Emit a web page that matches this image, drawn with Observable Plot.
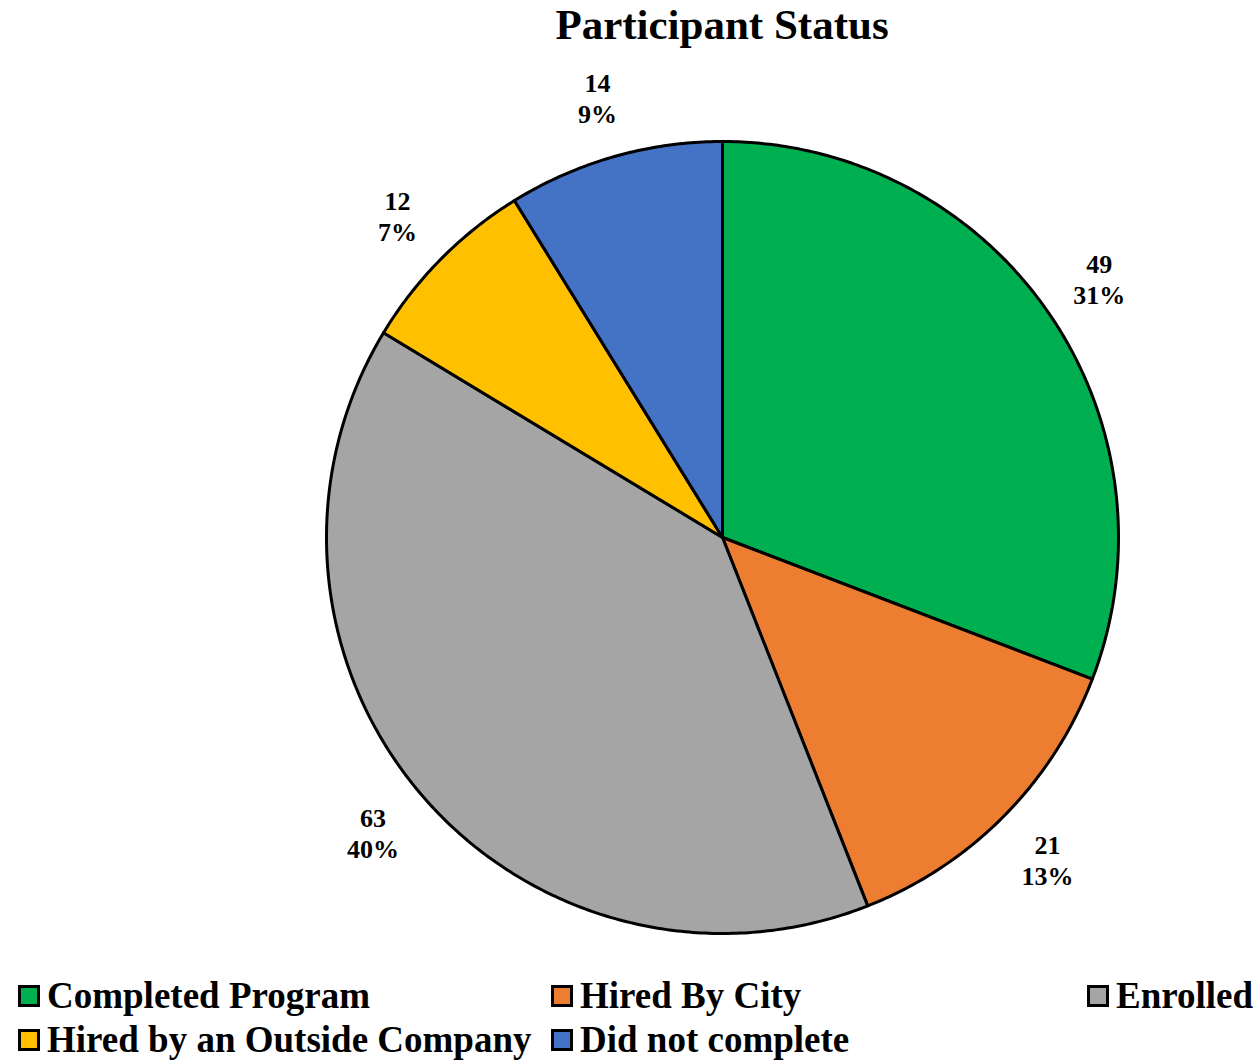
<!DOCTYPE html>
<html>
<head>
<meta charset="utf-8">
<script src="https://cdn.jsdelivr.net/npm/d3@7"></script>
<script src="https://cdn.jsdelivr.net/npm/@observablehq/plot@0.6"></script>
<style>
  html, body { margin: 0; padding: 0; background: #fff; }
  body { width: 1258px; height: 1062px; overflow: hidden; font-family: "Liberation Serif", serif; }
  #title { height: 60px; line-height: 50px; font-size: 43px; font-weight: bold; text-align: center; width: 1258px; padding-left: 186px; box-sizing: border-box; }
  #legend { position: relative; height: 100px; font-size: 37px; font-weight: bold; }
  .item { position: absolute; display: flex; align-items: center; white-space: nowrap; }
  .sw { width: 16px; height: 16px; border: 3px solid #000; margin-right: 7px; }
</style>
</head>
<body>
<div id="title">Participant Status</div>
<div id="chart"></div>
<div id="legend"></div>
<script>
const categories = ["Completed Program", "Hired By City", "Enrolled", "Hired by an Outside Company", "Did not complete"];
const values = [49, 21, 63, 12, 14];
const percentLabels = ["31%", "13%", "40%", "7%", "9%"];
const colors = ["#00B050", "#ED7D31", "#A5A5A5", "#FFC000", "#4472C4"];

const rows = categories.map((c, i) => ({category: c, value: values[i], pct: percentLabels[i]}));
const arcs = d3.pie().sort(null).value(d => d.value)(rows);

// polygon outline for each slice (unit circle, angle 0 at top, clockwise)
const slicePts = [];
arcs.forEach(a => {
  const c = a.data.category;
  slicePts.push({category: c, x: 0, y: 0});
  const n = Math.max(2, Math.ceil((a.endAngle - a.startAngle) / 0.01));
  for (let k = 0; k <= n; k++) {
    const t = a.startAngle + (a.endAngle - a.startAngle) * k / n;
    slicePts.push({category: c, x: Math.sin(t), y: Math.cos(t)});
  }
  slicePts.push({category: c, x: 0, y: 0});
});
const labelR = 1.155;
const labels = arcs.map(a => {
  const m = (a.startAngle + a.endAngle) / 2;
  return {x: labelR * Math.sin(m), y: labelR * Math.cos(m), text: a.data.value + "\n" + a.data.pct};
});

const plot = Plot.plot({
  width: 1258,
  height: 900,
  marginLeft: 326,
  marginRight: 140,
  marginTop: 81,
  marginBottom: 27,
  x: {domain: [-1, 1], axis: null},
  y: {domain: [-1, 1], axis: null},
  color: {domain: categories, range: colors},
  style: {fontFamily: "Liberation Serif", overflow: "visible"},
  marks: [
    Plot.line(slicePts, {x: "x", y: "y", z: "category", fill: "category", stroke: "#000", strokeWidth: 3, strokeLinejoin: "round", curve: "linear"}),
    Plot.text(labels, {x: "x", y: "y", text: "text", fontSize: 26, fontWeight: "bold", lineHeight: 1.2, fill: "#000"})
  ]
});
document.getElementById("chart").appendChild(plot);

const legendPos = [[18, 0], [551, 0], [1087, 0], [18, 44], [551, 44]];
const lg = document.getElementById("legend");
categories.forEach((c, i) => {
  const it = document.createElement("div");
  it.className = "item";
  it.style.left = legendPos[i][0] + "px";
  it.style.top = (14 + legendPos[i][1]) + "px";
  it.innerHTML = `<div class="sw" style="background:${colors[i]}"></div><span>${c}</span>`;
  lg.appendChild(it);
});
</script>
</body>
</html>
